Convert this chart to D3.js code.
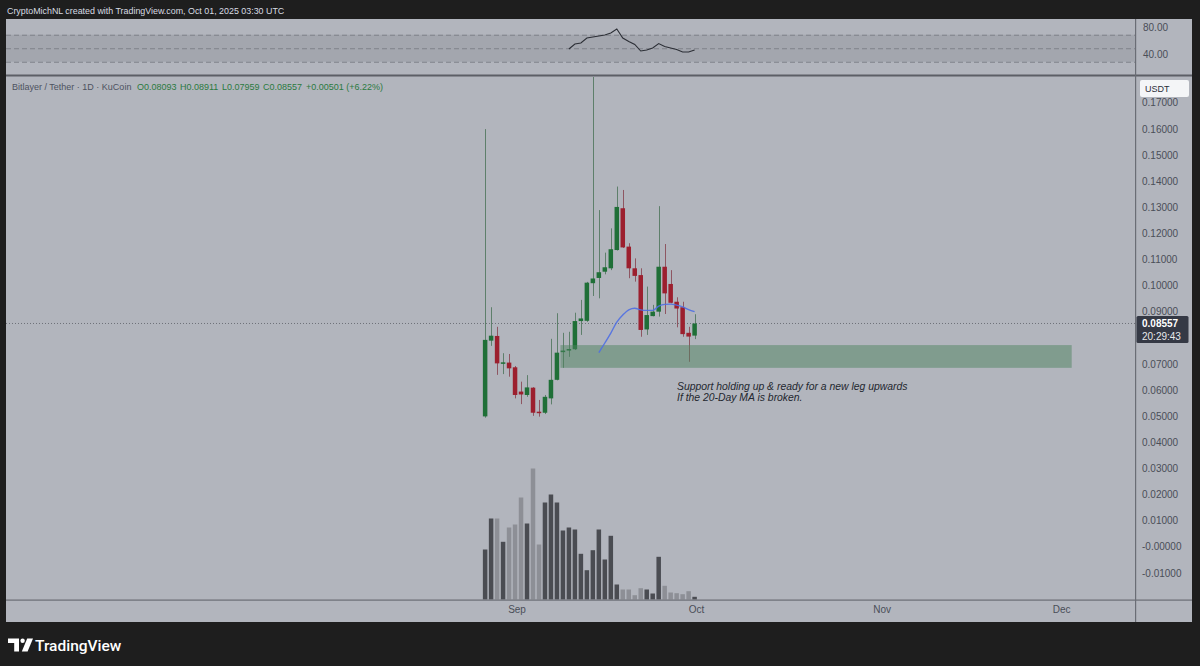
<!DOCTYPE html>
<html><head><meta charset="utf-8">
<script src="https://cdn.jsdelivr.net/npm/d3@7"></script>
<style>html,body{margin:0;padding:0;background:#1e1e1e;} svg{display:block;}</style>
</head><body><svg id="c" width="1200" height="666"></svg>
<script>
// ---------- DATA ----------
const dates = ["2025-08-27","2025-08-28","2025-08-29","2025-08-30","2025-08-31","2025-09-01","2025-09-02","2025-09-03","2025-09-04","2025-09-05","2025-09-06","2025-09-07","2025-09-08","2025-09-09","2025-09-10","2025-09-11","2025-09-12","2025-09-13","2025-09-14","2025-09-15","2025-09-16","2025-09-17","2025-09-18","2025-09-19","2025-09-20","2025-09-21","2025-09-22","2025-09-23","2025-09-24","2025-09-25","2025-09-26","2025-09-27","2025-09-28","2025-09-29","2025-09-30","2025-10-01"];
const opens  = [0.0500,0.0790,0.0808,0.0703,0.0706,0.0688,0.0595,0.0582,0.0610,0.0518,0.0514,0.0569,0.0640,0.0746,0.0752,0.0757,0.0865,0.0866,0.1010,0.1030,0.1054,0.1067,0.1137,0.1297,0.1150,0.1067,0.1041,0.0833,0.0884,0.0901,0.1073,0.1007,0.0939,0.0918,0.0820,0.08093];
const highs  = [0.1600,0.0918,0.0843,0.0742,0.0739,0.0693,0.0633,0.0658,0.0612,0.0563,0.0582,0.0797,0.0895,0.0820,0.0824,0.0897,0.0946,0.1015,0.1850,0.1290,0.1127,0.1220,0.1380,0.1367,0.1163,0.1105,0.1067,0.0997,0.0927,0.1305,0.1160,0.1060,0.0956,0.0939,0.0843,0.08911];
const lows   = [0.0495,0.0770,0.0659,0.0662,0.0652,0.0569,0.0547,0.0575,0.0502,0.0499,0.0509,0.0546,0.0638,0.0686,0.0728,0.0754,0.0812,0.0862,0.0961,0.0952,0.1044,0.1060,0.1135,0.1145,0.1029,0.1016,0.0805,0.0812,0.0883,0.0882,0.0892,0.0933,0.0841,0.0805,0.0709,0.07959];
const closes = [0.0793,0.0809,0.0703,0.0707,0.0684,0.0582,0.0584,0.0611,0.0514,0.0515,0.0575,0.0640,0.0744,0.0752,0.0758,0.0865,0.0875,0.1012,0.1028,0.1052,0.1071,0.1140,0.1302,0.1147,0.1067,0.1038,0.0831,0.0888,0.0901,0.1073,0.0971,0.0935,0.0913,0.0815,0.08056,0.08557];
const volumes = [50,81,81,57.7,72,75,102,76,131,55,97,105,97,69,72,70,45.7,29.3,49.3,70,40,63.7,15,10,10,4.3,11.3,10,6,42.7,13.7,7,6.3,5.3,8.3,2.7];
const ma20Start = 19;
const ma20 = [0.0744,0.0781,0.0819,0.0861,0.0888,0.0908,0.0914,0.0908,0.0906,0.0906,0.0922,0.0929,0.0930,0.0926,0.0919,0.0909,0.0901];
const rsiStart = 14;
const rsi14 = [48.9,56.3,57.8,65.2,66.7,68.1,69.6,72.6,78.5,65.2,60.0,55.6,45.9,47.4,50.4,57.0,52.6,50.4,48.1,44.4,44.4,47.4];
const priceTicks = [0.17,0.16,0.15,0.14,0.13,0.12,0.11,0.10,0.09,0.07,0.06,0.05,0.04,0.03,0.02,0.01,0.00,-0.01];
const rsiTicks = [80,40];
const rsiBands = [70,50,30];
const monthTicks = ["2025-09-01","2025-10-01","2025-11-01","2025-12-01"];
const monthLabels = ["Sep","Oct","Nov","Dec"];
const zone = {start:"2025-09-08T14:00:00Z", end:"2025-12-03T00:00:00Z", low:0.0686, high:0.0773};
const lastPrice = 0.08557, countdown = "20:29:43";
const headerText = "CryptoMichNL created with TradingView.com, Oct 01, 2025 03:30 UTC";
const noteLines = ["Support holding up & ready for a new leg upwards","If the 20-Day MA is broken."];

// ---------- LAYOUT ----------
const W=1200,H=666;
const L=6, R=1135, AX_R=1192;
const rsiTop=20, rsiBot=74, mainTop=77, mainBot=600, frameBot=622;
const svg=d3.select("#c");
const FONT="'Liberation Sans', Arial, sans-serif";
const parse=d=>new Date(d.length===10? d+"T00:00:00Z": d);
const day=864e5, t0=Date.UTC(2025,7,27);
const x=d3.scaleUtc().domain([new Date(t0-80.05*day), new Date(t0+108.58*day)]).range([L,R]);
const y=d3.scaleLinear().domain([-0.01,0.16]).range([573.1,129.1]);
const yR=d3.scaleLinear().domain([11.85,91.85]).range([rsiBot,rsiTop]);
const vol=d3.scaleLinear().domain([0,131]).range([599.5,468.5]);
const bw=4.5;

// background
svg.append("rect").attr("width",W).attr("height",H).attr("fill","#1e1e1e");
svg.append("rect").attr("x",L).attr("y",rsiTop-1).attr("width",AX_R-L).attr("height",frameBot-rsiTop+1).attr("fill","#b2b5bd");
// header
svg.append("text").attr("x",7).attr("y",13.5).attr("fill","#d8dbe2").attr("font-family",FONT).attr("font-size",8.9).text(headerText);

// RSI pane
svg.append("rect").attr("x",L).attr("width",R-L).attr("y",yR(70)).attr("height",yR(30)-yR(70)).attr("fill","#a3a6ae");
svg.selectAll(".rb").data(rsiBands).enter().append("line")
  .attr("x1",L).attr("x2",R).attr("y1",d=>yR(d)+0.5).attr("y2",d=>yR(d)+0.5)
  .attr("stroke","#7f828a").attr("stroke-dasharray","5,3").attr("stroke-width",1);
const rsiData=rsi14.map((v,i)=>({d:parse(dates[rsiStart+i]),v}));
svg.append("path").datum(rsiData).attr("fill","none").attr("stroke","#2c2f36").attr("stroke-width",1.1)
  .attr("d",d3.line().x(d=>x(d.d)).y(d=>yR(d.v)));
svg.selectAll(".rt").data(rsiTicks).enter().append("text").attr("x",1143).attr("y",d=>yR(d)).attr("dy","0.35em")
  .attr("fill","#4a4e58").attr("font-family",FONT).attr("font-size",10).text(d=>d.toFixed(2));

// pane separator
svg.append("rect").attr("x",L).attr("y",74.5).attr("width",AX_R-L).attr("height",2).attr("fill","#5c5f66");

// main pane
svg.append("clipPath").attr("id","mc").append("rect").attr("x",L).attr("y",mainTop).attr("width",R-L).attr("height",mainBot-mainTop);
const g=svg.append("g").attr("clip-path","url(#mc)");

// volume
const data=dates.map((d,i)=>({d:parse(d),o:opens[i],h:highs[i],l:lows[i],c:closes[i],v:volumes[i]}));
g.selectAll(".vb").data(data).enter().append("rect")
  .attr("x",d=>x(d.d)-bw/2).attr("width",bw).attr("y",d=>vol(d.v)).attr("height",d=>vol(0)-vol(d.v))
  .attr("fill",d=>d.c>=d.o?"#4a4c52":"#8d8f96");

// price line
g.append("line").attr("x1",L).attr("x2",R).attr("y1",y(lastPrice)).attr("y2",y(lastPrice))
  .attr("stroke","#6f727a").attr("stroke-dasharray","1,2").attr("stroke-width",1);

// candles
const cg=g.selectAll(".cd").data(data).enter().append("g");
cg.append("line").attr("x1",d=>Math.round(x(d.d))+0.5).attr("x2",d=>Math.round(x(d.d))+0.5)
  .attr("y1",d=>y(d.h)).attr("y2",d=>y(d.l)).attr("stroke",d=>d.c>=d.o?"#5e7f6b":"#8e5662").attr("stroke-width",1);
cg.append("rect").attr("x",d=>x(d.d)-bw/2).attr("width",bw)
  .attr("y",d=>y(Math.max(d.o,d.c))).attr("height",d=>Math.max(1.5,Math.abs(y(d.o)-y(d.c))))
  .attr("fill",d=>d.c>=d.o?"#1f6f37":"#9c1f2e");

// support zone
g.append("rect").attr("x",x(parse(zone.start))).attr("width",x(parse(zone.end))-x(parse(zone.start)))
  .attr("y",y(zone.high)).attr("height",y(zone.low)-y(zone.high)).attr("fill","rgba(78,132,96,0.5)");

// MA
const maData=ma20.map((v,i)=>({d:parse(dates[ma20Start+i]),v}));
g.append("path").datum(maData).attr("fill","none").attr("stroke","#4f6fe3").attr("stroke-width",1.4).attr("stroke-opacity",0.9)
  .attr("d",d3.line().curve(d3.curveMonotoneX).x(d=>x(d.d)).y(d=>y(d.v)));

// annotation
const nt=svg.append("text").attr("font-family",FONT).attr("font-style","italic").attr("font-size",10.4).attr("fill","#23272f");
noteLines.forEach((t,i)=>nt.append("tspan").attr("x",677).attr("y",390+i*10.5).text(t));

// legend
const lg=svg.append("g").attr("font-family",FONT).attr("font-size",9);
lg.append("text").attr("x",12).attr("y",90).attr("fill","#4d5260").text("Bitlayer / Tether · 1D · KuCoin");
const legVals=[["O"+opens[35].toFixed(5),137],["H"+highs[35].toFixed(5),180],["L"+lows[35].toFixed(5),222],["C"+closes[35].toFixed(5),263],["+0.00501 (+6.22%)",306]];
legVals.forEach(([t,xx])=>lg.append("text").attr("x",xx).attr("y",90).attr("fill","#2b7a3f").text(t));

// x axis pane line
svg.append("rect").attr("x",L).attr("y",599.5).attr("width",AX_R-L).attr("height",1.2).attr("fill","#6a6d75");
svg.selectAll(".mt").data(monthTicks).enter().append("text").attr("x",d=>x(parse(d))+2).attr("y",613).attr("text-anchor","middle")
  .attr("fill","#4a4e58").attr("font-family",FONT).attr("font-size",10).text((d,i)=>monthLabels[i]);

// price axis separator
svg.append("rect").attr("x",R).attr("y",rsiTop-1).attr("width",1.2).attr("height",frameBot-rsiTop+1).attr("fill","#6a6d75");

// price axis labels
svg.selectAll(".pt").data(priceTicks).enter().append("text").attr("x",1142).attr("y",d=>y(d)).attr("dy","0.35em")
  .attr("fill","#4a4e58").attr("font-family",FONT).attr("font-size",10)
  .text(d=>d===0?"-0.00000":d.toFixed(5));

// USDT box
svg.append("rect").attr("x",1140).attr("y",80).attr("width",49).attr("height",17).attr("rx",2).attr("fill","#f4f5f7");
svg.append("text").attr("x",1145).attr("y",92).attr("fill","#2a2e39").attr("font-family",FONT).attr("font-size",9).text("USDT");

// last price label
const ly=y(lastPrice);
svg.append("rect").attr("x",1136.5).attr("y",ly-7.5).attr("width",52).attr("height",27).attr("rx",1.5).attr("fill","#353945");
svg.append("text").attr("x",1142).attr("y",ly).attr("dy","0.35em").attr("fill","#ffffff").attr("font-family",FONT).attr("font-size",10).attr("font-weight","bold").text(lastPrice.toFixed(5));
svg.append("text").attr("x",1142).attr("y",ly+13).attr("dy","0.35em").attr("fill","#e8e9ec").attr("font-family",FONT).attr("font-size",10).text(countdown);

// bottom dark strip
svg.append("rect").attr("x",0).attr("y",frameBot).attr("width",W).attr("height",H-frameBot).attr("fill","#1e1e1e");

// TradingView logo
const lgo=svg.append("g").attr("transform","translate(8,638.5)").attr("fill","#ffffff");
lgo.append("path").attr("d","M0,0H11V13H6.2V4.4H0Z");
lgo.append("circle").attr("cx",14.6).attr("cy",2.2).attr("r",2.2);
lgo.append("path").attr("d","M19.2,0H25L19.6,13H13.8Z");
svg.append("text").attr("x",35).attr("y",650.5).attr("fill","#ffffff").attr("font-family","Roboto, sans-serif").attr("font-weight",500).attr("font-size",15.5).text("TradingView");
</script></body></html>
